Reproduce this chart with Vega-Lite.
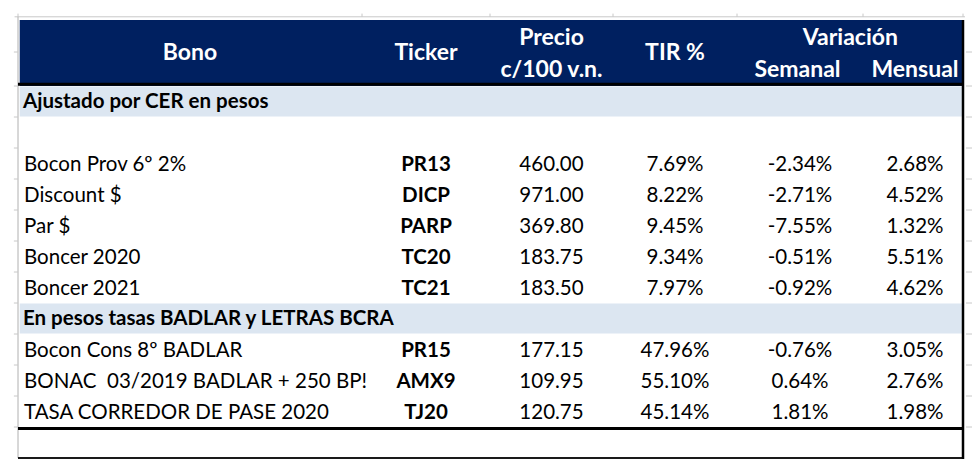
{
  "$schema": "https://vega.github.io/schema/vega-lite/v6.json",
  "width": 980,
  "height": 474,
  "autosize": "none",
  "padding": 0,
  "background": "white",
  "data": {"values": [{}]},
  "config": {
    "view": {"stroke": null},
    "text": {"font": "Lato", "fontSize": 20.5, "color": "#000000", "baseline": "middle"},
    "locale": {"number": {"decimal": ".", "thousands": ",", "grouping": [3], "currency": ["$", ""], "minus": "-"}}
  },
  "datasets": {
    "bonos": [
      {"row": 2, "Bono": "Bocon Prov 6º 2%", "Ticker": "PR13", "Precio": 460.00, "TIR": 0.0769, "Semanal": -0.0234, "Mensual": 0.0268},
      {"row": 3, "Bono": "Discount $", "Ticker": "DICP", "Precio": 971.00, "TIR": 0.0822, "Semanal": -0.0271, "Mensual": 0.0452},
      {"row": 4, "Bono": "Par $", "Ticker": "PARP", "Precio": 369.80, "TIR": 0.0945, "Semanal": -0.0755, "Mensual": 0.0132},
      {"row": 5, "Bono": "Boncer 2020", "Ticker": "TC20", "Precio": 183.75, "TIR": 0.0934, "Semanal": -0.0051, "Mensual": 0.0551},
      {"row": 6, "Bono": "Boncer 2021", "Ticker": "TC21", "Precio": 183.50, "TIR": 0.0797, "Semanal": -0.0092, "Mensual": 0.0462},
      {"row": 8, "Bono": "Bocon Cons 8º BADLAR", "Ticker": "PR15", "Precio": 177.15, "TIR": 0.4796, "Semanal": -0.0076, "Mensual": 0.0305},
      {"row": 9, "Bono": "BONAC \u00a003/2019 BADLAR + 250 BP!", "Ticker": "AMX9", "Precio": 109.95, "TIR": 0.5510, "Semanal": 0.0064, "Mensual": 0.0276},
      {"row": 10, "Bono": "TASA CORREDOR DE PASE 2020", "Ticker": "TJ20", "Precio": 120.75, "TIR": 0.4514, "Semanal": 0.0181, "Mensual": 0.0198}
    ],
    "secciones": [
      {"row": 0, "Seccion": "Ajustado por CER en pesos"},
      {"row": 7, "Seccion": "En pesos tasas BADLAR y LETRAS BCRA"}
    ],
    "bordes": [
      {"b": -1.5}, {"b": -0.5}, {"b": 0.5}, {"b": 1.5}, {"b": 2.5}, {"b": 3.5}, {"b": 4.5},
      {"b": 5.5}, {"b": 6.5}, {"b": 7.5}, {"b": 8.5}, {"b": 9.5}, {"b": 10.5}
    ],
    "columnas": [
      {"c": 0}, {"c": 1}, {"c": 2}, {"c": 3}, {"c": 4}, {"c": 5}, {"c": 6}
    ]
  },
  "layer": [
    {
      "mark": {"type": "rect", "color": "#002060"},
      "encoding": {
        "x": {"datum": 0.005, "type": "quantitative", "scale": {"domain": [0, 1, 2, 3, 4, 5, 6], "range": [18, 362, 490, 613, 737, 863, 963]}, "axis": null},
        "x2": {"datum": 6},
        "y": {"datum": -2.5, "type": "quantitative", "scale": {"domain": [-2.5, -1.5, -0.5, 11.5], "range": [20, 52, 86, 458]}, "axis": null},
        "y2": {"datum": -0.5}
      }
    },
    {
      "data": {"name": "secciones"},
      "mark": {"type": "rect", "color": "#DCE6F1", "yOffset": -15, "y2Offset": 15},
      "encoding": {
        "x": {"datum": 0.005, "type": "quantitative", "scale": {"domain": [0, 1, 2, 3, 4, 5, 6], "range": [18, 362, 490, 613, 737, 863, 963]}, "axis": null},
        "x2": {"datum": 6},
        "y": {"field": "row", "type": "quantitative", "scale": {"domain": [-2.5, -1.5, -0.5, 11.5], "range": [20, 52, 86, 458]}, "axis": null},
        "y2": {"field": "row"}
      }
    },
    {
      "mark": {"type": "rule", "color": "#c8c8c8", "strokeWidth": 1},
      "encoding": {
        "x": {"datum": -0.01, "type": "quantitative", "scale": {"domain": [0, 1, 2, 3, 4, 5, 6], "range": [18, 362, 490, 613, 737, 863, 963]}, "axis": null},
        "x2": {"datum": 6.02},
        "y": {"datum": -2.6, "type": "quantitative", "scale": {"domain": [-2.5, -1.5, -0.5, 11.5], "range": [20, 52, 86, 458]}, "axis": null}
      }
    },
    {
      "data": {"name": "columnas"},
      "mark": {"type": "rule", "color": "#c8c8c8", "strokeWidth": 1},
      "encoding": {
        "x": {"field": "c", "type": "quantitative", "scale": {"domain": [0, 1, 2, 3, 4, 5, 6], "range": [18, 362, 490, 613, 737, 863, 963]}, "axis": null},
        "y": {"datum": -2.7, "type": "quantitative", "scale": {"domain": [-2.5, -1.5, -0.5, 11.5], "range": [20, 52, 86, 458]}, "axis": null},
        "y2": {"datum": -2.6}
      }
    },
    {
      "mark": {"type": "rule", "color": "#b0b0b0", "strokeWidth": 1},
      "encoding": {
        "x": {"datum": 0, "type": "quantitative", "scale": {"domain": [0, 1, 2, 3, 4, 5, 6], "range": [18, 362, 490, 613, 737, 863, 963]}, "axis": null},
        "y": {"datum": -2.6, "type": "quantitative", "scale": {"domain": [-2.5, -1.5, -0.5, 11.5], "range": [20, 52, 86, 458]}, "axis": null},
        "y2": {"datum": 11.5}
      }
    },
    {
      "data": {"name": "bordes"},
      "mark": {"type": "rule", "color": "#c8c8c8", "strokeWidth": 1},
      "encoding": {
        "x": {"datum": 6.03, "type": "quantitative", "scale": {"domain": [0, 1, 2, 3, 4, 5, 6], "range": [18, 362, 490, 613, 737, 863, 963]}, "axis": null},
        "x2": {"datum": 6.09},
        "y": {"field": "b", "type": "quantitative", "scale": {"domain": [-2.5, -1.5, -0.5, 11.5], "range": [20, 52, 86, 458]}, "axis": null}
      }
    },
    {
      "data": {"name": "bordes"},
      "mark": {"type": "rule", "color": "#c8c8c8", "strokeWidth": 1},
      "encoding": {
        "x": {"datum": -0.012, "type": "quantitative", "scale": {"domain": [0, 1, 2, 3, 4, 5, 6], "range": [18, 362, 490, 613, 737, 863, 963]}, "axis": null},
        "x2": {"datum": 0},
        "y": {"field": "b", "type": "quantitative", "scale": {"domain": [-2.5, -1.5, -0.5, 11.5], "range": [20, 52, 86, 458]}, "axis": null}
      }
    },
    {
      "mark": {"type": "rule", "color": "#000000", "strokeWidth": 3},
      "encoding": {
        "x": {"datum": 0, "type": "quantitative", "scale": {"domain": [0, 1, 2, 3, 4, 5, 6], "range": [18, 362, 490, 613, 737, 863, 963]}, "axis": null},
        "x2": {"datum": 6},
        "y": {"datum": -0.55, "type": "quantitative", "scale": {"domain": [-2.5, -1.5, -0.5, 11.5], "range": [20, 52, 86, 458]}, "axis": null}
      }
    },
    {
      "mark": {"type": "rule", "color": "#000000", "strokeWidth": 3},
      "encoding": {
        "x": {"datum": 0, "type": "quantitative", "scale": {"domain": [0, 1, 2, 3, 4, 5, 6], "range": [18, 362, 490, 613, 737, 863, 963]}, "axis": null},
        "x2": {"datum": 6},
        "y": {"datum": 10.55, "type": "quantitative", "scale": {"domain": [-2.5, -1.5, -0.5, 11.5], "range": [20, 52, 86, 458]}, "axis": null}
      }
    },
    {
      "mark": {"type": "rule", "color": "#1a1a1a", "strokeWidth": 2},
      "encoding": {
        "x": {"datum": 0, "type": "quantitative", "scale": {"domain": [0, 1, 2, 3, 4, 5, 6], "range": [18, 362, 490, 613, 737, 863, 963]}, "axis": null},
        "x2": {"datum": 6},
        "y": {"datum": 11.5, "type": "quantitative", "scale": {"domain": [-2.5, -1.5, -0.5, 11.5], "range": [20, 52, 86, 458]}, "axis": null}
      }
    },
    {
      "mark": {"type": "rule", "color": "#000000", "strokeWidth": 2.5},
      "encoding": {
        "x": {"datum": 6, "type": "quantitative", "scale": {"domain": [0, 1, 2, 3, 4, 5, 6], "range": [18, 362, 490, 613, 737, 863, 963]}, "axis": null},
        "y": {"datum": -2.5, "type": "quantitative", "scale": {"domain": [-2.5, -1.5, -0.5, 11.5], "range": [20, 52, 86, 458]}, "axis": null},
        "y2": {"datum": 11.53}
      }
    },
    {
      "mark": {"type": "text", "color": "white", "fontWeight": "bold", "align": "center", "fontSize": 23},
      "encoding": {
        "x": {"datum": 0.5, "type": "quantitative", "scale": {"domain": [0, 1, 2, 3, 4, 5, 6], "range": [18, 362, 490, 613, 737, 863, 963]}, "axis": null},
        "y": {"datum": -1.47, "type": "quantitative", "scale": {"domain": [-2.5, -1.5, -0.5, 11.5], "range": [20, 52, 86, 458]}, "axis": null},
        "text": {"value": "Bono"}
      }
    },
    {
      "mark": {"type": "text", "color": "white", "fontWeight": "bold", "align": "center", "fontSize": 23},
      "encoding": {
        "x": {"datum": 1.5, "type": "quantitative", "scale": {"domain": [0, 1, 2, 3, 4, 5, 6], "range": [18, 362, 490, 613, 737, 863, 963]}, "axis": null},
        "y": {"datum": -1.47, "type": "quantitative", "scale": {"domain": [-2.5, -1.5, -0.5, 11.5], "range": [20, 52, 86, 458]}, "axis": null},
        "text": {"value": "Ticker"}
      }
    },
    {
      "mark": {"type": "text", "color": "white", "fontWeight": "bold", "align": "center", "fontSize": 23},
      "encoding": {
        "x": {"datum": 2.5, "type": "quantitative", "scale": {"domain": [0, 1, 2, 3, 4, 5, 6], "range": [18, 362, 490, 613, 737, 863, 963]}, "axis": null},
        "y": {"datum": -1.94, "type": "quantitative", "scale": {"domain": [-2.5, -1.5, -0.5, 11.5], "range": [20, 52, 86, 458]}, "axis": null},
        "text": {"value": "Precio"}
      }
    },
    {
      "mark": {"type": "text", "color": "white", "fontWeight": "bold", "align": "center", "fontSize": 23},
      "encoding": {
        "x": {"datum": 2.5, "type": "quantitative", "scale": {"domain": [0, 1, 2, 3, 4, 5, 6], "range": [18, 362, 490, 613, 737, 863, 963]}, "axis": null},
        "y": {"datum": -0.97, "type": "quantitative", "scale": {"domain": [-2.5, -1.5, -0.5, 11.5], "range": [20, 52, 86, 458]}, "axis": null},
        "text": {"value": "c/100 v.n."}
      }
    },
    {
      "mark": {"type": "text", "color": "white", "fontWeight": "bold", "align": "center", "fontSize": 23},
      "encoding": {
        "x": {"datum": 3.5, "type": "quantitative", "scale": {"domain": [0, 1, 2, 3, 4, 5, 6], "range": [18, 362, 490, 613, 737, 863, 963]}, "axis": null},
        "y": {"datum": -1.47, "type": "quantitative", "scale": {"domain": [-2.5, -1.5, -0.5, 11.5], "range": [20, 52, 86, 458]}, "axis": null},
        "text": {"value": "TIR %"}
      }
    },
    {
      "mark": {"type": "text", "color": "white", "fontWeight": "bold", "align": "center", "fontSize": 23},
      "encoding": {
        "x": {"datum": 4.9, "type": "quantitative", "scale": {"domain": [0, 1, 2, 3, 4, 5, 6], "range": [18, 362, 490, 613, 737, 863, 963]}, "axis": null},
        "y": {"datum": -1.94, "type": "quantitative", "scale": {"domain": [-2.5, -1.5, -0.5, 11.5], "range": [20, 52, 86, 458]}, "axis": null},
        "text": {"value": "Variación"}
      }
    },
    {
      "mark": {"type": "text", "color": "white", "fontWeight": "bold", "align": "center", "fontSize": 23},
      "encoding": {
        "x": {"datum": 4.48, "type": "quantitative", "scale": {"domain": [0, 1, 2, 3, 4, 5, 6], "range": [18, 362, 490, 613, 737, 863, 963]}, "axis": null},
        "y": {"datum": -0.97, "type": "quantitative", "scale": {"domain": [-2.5, -1.5, -0.5, 11.5], "range": [20, 52, 86, 458]}, "axis": null},
        "text": {"value": "Semanal"}
      }
    },
    {
      "mark": {"type": "text", "color": "white", "fontWeight": "bold", "align": "center", "fontSize": 23},
      "encoding": {
        "x": {"datum": 5.52, "type": "quantitative", "scale": {"domain": [0, 1, 2, 3, 4, 5, 6], "range": [18, 362, 490, 613, 737, 863, 963]}, "axis": null},
        "y": {"datum": -0.97, "type": "quantitative", "scale": {"domain": [-2.5, -1.5, -0.5, 11.5], "range": [20, 52, 86, 458]}, "axis": null},
        "text": {"value": "Mensual"}
      }
    },
    {
      "data": {"name": "secciones"},
      "mark": {"type": "text", "fontWeight": "bold", "align": "left", "dx": 5},
      "encoding": {
        "x": {"datum": 0, "type": "quantitative", "scale": {"domain": [0, 1, 2, 3, 4, 5, 6], "range": [18, 362, 490, 613, 737, 863, 963]}, "axis": null},
        "y": {"field": "row", "type": "quantitative", "scale": {"domain": [-2.5, -1.5, -0.5, 11.5], "range": [20, 52, 86, 458]}, "axis": null},
        "text": {"field": "Seccion"}
      }
    },
    {
      "data": {"name": "bonos"},
      "mark": {"type": "text", "align": "left", "dx": 6, "dy": 1},
      "encoding": {
        "x": {"datum": 0, "type": "quantitative", "scale": {"domain": [0, 1, 2, 3, 4, 5, 6], "range": [18, 362, 490, 613, 737, 863, 963]}, "axis": null},
        "y": {"field": "row", "type": "quantitative", "scale": {"domain": [-2.5, -1.5, -0.5, 11.5], "range": [20, 52, 86, 458]}, "axis": null},
        "text": {"field": "Bono"}
      }
    },
    {
      "data": {"name": "bonos"},
      "mark": {"type": "text", "align": "center", "fontWeight": "bold", "dy": 1},
      "encoding": {
        "x": {"datum": 1.5, "type": "quantitative", "scale": {"domain": [0, 1, 2, 3, 4, 5, 6], "range": [18, 362, 490, 613, 737, 863, 963]}, "axis": null},
        "y": {"field": "row", "type": "quantitative", "scale": {"domain": [-2.5, -1.5, -0.5, 11.5], "range": [20, 52, 86, 458]}, "axis": null},
        "text": {"field": "Ticker"}
      }
    },
    {
      "data": {"name": "bonos"},
      "mark": {"type": "text", "align": "center", "dy": 1},
      "encoding": {
        "x": {"datum": 2.5, "type": "quantitative", "scale": {"domain": [0, 1, 2, 3, 4, 5, 6], "range": [18, 362, 490, 613, 737, 863, 963]}, "axis": null},
        "y": {"field": "row", "type": "quantitative", "scale": {"domain": [-2.5, -1.5, -0.5, 11.5], "range": [20, 52, 86, 458]}, "axis": null},
        "text": {"field": "Precio", "type": "quantitative", "format": ".2f"}
      }
    },
    {
      "data": {"name": "bonos"},
      "mark": {"type": "text", "align": "center", "dy": 1},
      "encoding": {
        "x": {"datum": 3.5, "type": "quantitative", "scale": {"domain": [0, 1, 2, 3, 4, 5, 6], "range": [18, 362, 490, 613, 737, 863, 963]}, "axis": null},
        "y": {"field": "row", "type": "quantitative", "scale": {"domain": [-2.5, -1.5, -0.5, 11.5], "range": [20, 52, 86, 458]}, "axis": null},
        "text": {"field": "TIR", "type": "quantitative", "format": ".2%"}
      }
    },
    {
      "data": {"name": "bonos"},
      "mark": {"type": "text", "align": "center", "dy": 1},
      "encoding": {
        "x": {"datum": 4.5, "type": "quantitative", "scale": {"domain": [0, 1, 2, 3, 4, 5, 6], "range": [18, 362, 490, 613, 737, 863, 963]}, "axis": null},
        "y": {"field": "row", "type": "quantitative", "scale": {"domain": [-2.5, -1.5, -0.5, 11.5], "range": [20, 52, 86, 458]}, "axis": null},
        "text": {"field": "Semanal", "type": "quantitative", "format": ".2%"}
      }
    },
    {
      "data": {"name": "bonos"},
      "mark": {"type": "text", "align": "center", "dy": 1},
      "encoding": {
        "x": {"datum": 5.52, "type": "quantitative", "scale": {"domain": [0, 1, 2, 3, 4, 5, 6], "range": [18, 362, 490, 613, 737, 863, 963]}, "axis": null},
        "y": {"field": "row", "type": "quantitative", "scale": {"domain": [-2.5, -1.5, -0.5, 11.5], "range": [20, 52, 86, 458]}, "axis": null},
        "text": {"field": "Mensual", "type": "quantitative", "format": ".2%"}
      }
    }
  ]
}
